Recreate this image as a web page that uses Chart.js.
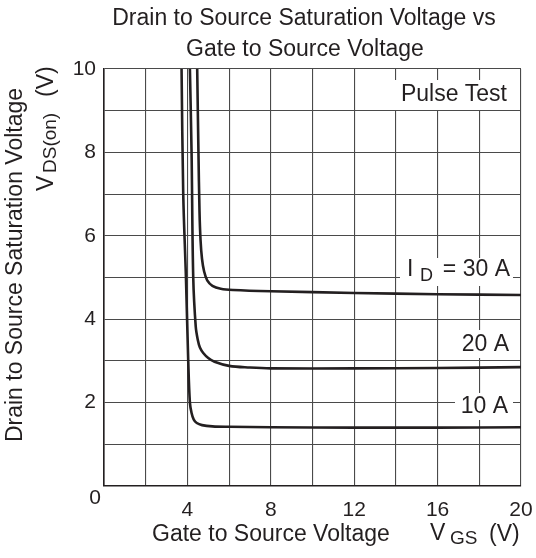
<!DOCTYPE html>
<html>
<head>
<meta charset="utf-8">
<script src="https://cdn.jsdelivr.net/npm/chart.js@4"></script>
<style>
  html, body { margin: 0; padding: 0; background: #fff; }
  #wrap { width: 536px; height: 558px; position: relative; }
</style>
</head>
<body>
<div id="wrap"><canvas id="chart" width="536" height="558"></canvas></div>
<script>
// Axis ranges / ticks
const xMin = 0, xMax = 20, xStep = 2
const yMin = 0, yMax = 10, yStep = 1
const xTickLabels = [4, 8, 12, 16, 20]
const yTickLabels = [2, 4, 6, 8, 10]

// ID = 10 A
const vgs10 = [3.72, 3.8, 3.93, 4.04, 4.12, 4.2, 4.3, 4.45, 4.7, 5.2, 6.0, 8, 12, 16, 20]
const vds10 = [10, 7, 5, 3, 2, 1.75, 1.6, 1.51, 1.46, 1.43, 1.42, 1.41, 1.4, 1.4, 1.41]

// ID = 20 A
const vgs20 = [4.12, 4.2, 4.28, 4.4, 4.5, 4.6, 4.76, 5.0, 5.3, 6.0, 7.0, 8, 12, 16, 20]
const vds20 = [10, 8, 5, 3.82, 3.5, 3.32, 3.19, 3.07, 2.98, 2.88, 2.84, 2.82, 2.82, 2.83, 2.85]

// ID = 30 A
const vgs30 = [4.47, 4.53, 4.58, 4.63, 4.7, 4.8, 4.95, 5.2, 5.6, 6.2, 8, 12, 16, 20]
const vds30 = [10, 8, 6.6, 5.9, 5.45, 5.15, 4.93, 4.8, 4.73, 4.7, 4.67, 4.63, 4.6, 4.58]

const curveLabels = ['I D = 30 A', '20 A', '10 A']

function pts(xs, ys) {
  return xs.map((x, i) => ({ x, y: ys[i] }))
}

const FONT = 'Liberation Sans, Arial, Helvetica, sans-serif'
const INK = '#231f20'

function line(data) {
  return {
    data,
    borderColor: INK,
    borderWidth: 2.6,
    pointRadius: 0,
    fill: false,
    tension: 0.35
  }
}

function boxText(ctx, text, xRight, yMid, x0, y0, x1, y1) {
  ctx.fillStyle = '#fff'
  ctx.fillRect(x0, y0, x1 - x0, y1 - y0)
  ctx.fillStyle = INK
  ctx.textAlign = 'right'
  ctx.textBaseline = 'middle'
  ctx.fillText(text, xRight, yMid)
}

// texts drawn on top: titles, labels
const textPlugin = {
  id: 'texts',
  afterDatasetsDraw(chart) {
    const ctx = chart.ctx
    ctx.save()
    ctx.fillStyle = INK

    // title
    ctx.font = '23px ' + FONT
    ctx.textAlign = 'center'
    ctx.textBaseline = 'middle'
    ctx.fillText('Drain to Source Saturation Voltage vs', 304, 19)
    ctx.fillText('Gate to Source Voltage', 305, 50)

    // corner zero
    ctx.font = '21px ' + FONT
    ctx.fillText('0', 95, 498)

    // x axis title
    ctx.font = '23px ' + FONT
    ctx.textAlign = 'left'
    ctx.fillText('Gate to Source Voltage', 152, 535)
    ctx.fillText('V', 430, 534)
    ctx.font = '19px ' + FONT
    ctx.fillText('GS', 450, 539)
    ctx.font = '23px ' + FONT
    ctx.fillText('(V)', 489, 535)

    // y axis titles (rotated)
    ctx.save()
    ctx.translate(16, 265)
    ctx.rotate(-Math.PI / 2)
    ctx.textAlign = 'center'
    ctx.fillText('Drain to Source Saturation Voltage', 0, 0)
    ctx.restore()

    ctx.save()
    ctx.translate(47, 191)
    ctx.rotate(-Math.PI / 2)
    ctx.textAlign = 'left'
    ctx.fillText('V', 0, 0)
    ctx.fillText('(V)', 94, 0)
    ctx.font = '19px ' + FONT
    ctx.fillText('DS(on)', 18, 4)
    ctx.restore()

    // in-plot labels
    ctx.font = '23px ' + FONT
    boxText(ctx, 'Pulse Test', 507, 95, 391, 80, 513, 110)

    // ID = 30 A with subscript
    ctx.fillStyle = '#fff'
    ctx.fillRect(400, 258, 113, 28)
    ctx.fillStyle = INK
    ctx.textAlign = 'left'
    ctx.fillText('I', 407, 270)
    ctx.font = '18px ' + FONT
    ctx.fillText('D', 420, 276)
    ctx.font = '23px ' + FONT
    ctx.textAlign = 'right'
    ctx.fillText('= 30 A', 510, 270)

    boxText(ctx, curveLabels[1], 509, 345, 455, 330, 513, 358)
    boxText(ctx, curveLabels[2], 508, 407, 455, 393, 513, 420)

    ctx.restore()
  }
}

new Chart(document.getElementById('chart'), {
  type: 'line',
  data: {
    datasets: [
      line(pts(vgs30, vds30)),
      line(pts(vgs20, vds20)),
      line(pts(vgs10, vds10))
    ]
  },
  options: {
    responsive: false,
    animation: false,
    clip: false,
    layout: { padding: { top: 69, right: 15, left: 0, bottom: 0 } },
    plugins: { legend: { display: false }, tooltip: { enabled: false } },
    scales: {
      x: {
        type: 'linear',
        min: xMin, max: xMax,
        afterFit: (s) => { s.height = 72; s.paddingRight = 0; s.paddingLeft = 0 },
        border: { display: true, color: INK, width: 1.6 },
        grid: { color: '#4a4a4a', lineWidth: 1.1, drawTicks: false },
        ticks: {
          stepSize: xStep,
          autoSkip: false,
          maxRotation: 0,
          padding: 12,
          color: INK,
          font: { family: FONT, size: 21 },
          callback: (v) => xTickLabels.includes(v) ? String(v) : ''
        }
      },
      y: {
        type: 'linear',
        min: yMin, max: yMax,
        afterFit: (s) => { s.width = 104; s.paddingTop = 0; s.paddingBottom = 0 },
        border: { display: true, color: INK, width: 1.6 },
        grid: { color: '#4a4a4a', lineWidth: 1.1, drawTicks: false },
        ticks: {
          stepSize: yStep,
          autoSkip: false,
          padding: 8,
          color: INK,
          font: { family: FONT, size: 21 },
          callback: (v) => yTickLabels.includes(v) ? String(v) : ''
        }
      }
    }
  },
  plugins: [textPlugin]
})
</script>
</body>
</html>
